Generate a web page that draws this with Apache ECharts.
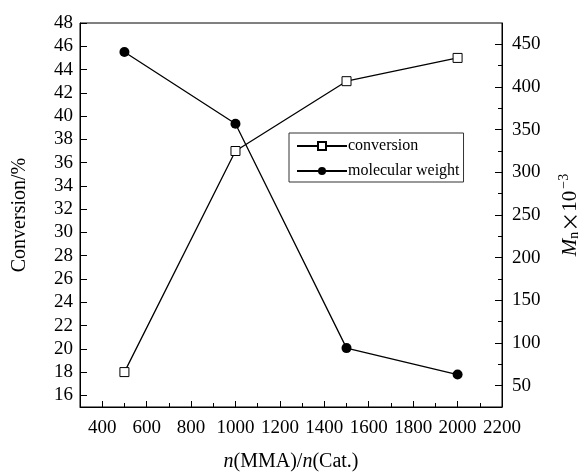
<!DOCTYPE html>
<html>
<head>
<meta charset="utf-8">
<script src="https://cdn.jsdelivr.net/npm/echarts@6/dist/echarts.min.js"></script>
<style>
html,body{margin:0;padding:0;background:#fff;}
#c{width:585px;height:474px;}
</style>
</head>
<body>
<div id="c"></div>
<script>
const ratios = [500, 1000, 1500, 2000];
const conversion = [18, 37, 43, 45];
const molecularWeight = [441, 357, 94, 63];
const xTickLabels = [400, 600, 800, 1000, 1200, 1400, 1600, 1800, 2000, 2200];
const xMinorTicks = [500, 700, 900, 1100, 1300, 1500, 1700, 1900, 2100];
const leftTickLabels = [16, 18, 20, 22, 24, 26, 28, 30, 32, 34, 36, 38, 40, 42, 44, 46, 48];
const rightTickLabels = [50, 100, 150, 200, 250, 300, 350, 400, 450];
const rightMinorTicks = [75, 125, 175, 225, 275, 325, 375, 425];

const FONT = '"Liberation Serif", "Times New Roman", serif';
const black = '#000';

const chart = echarts.init(document.getElementById('c'), null, {renderer: 'canvas'});
const lbl = {color: black, fontFamily: FONT, fontSize: 19, formatter: v => String(v)};

chart.setOption({
  animation: false,
  backgroundColor: '#fff',
  grid: {left: 80, right: 83, top: 23, bottom: 67, show: true, borderColor: black, borderWidth: 1, containLabel: false, outerBoundsMode: 'none'},
  legend: {
    orient: 'vertical', left: 289, top: 133,
    data: ['conversion', 'molecular weight'],
    borderColor: '#333', borderWidth: 1, borderRadius: 0,
    padding: [5, 4, 3, 7], itemWidth: 50, itemHeight: 10, itemGap: 9,
    textStyle: {color: black, fontFamily: FONT, fontSize: 16, padding: [0, 0, 0, -4]},
    selectedMode: false
  },
  xAxis: [
    {
      type: 'value', min: 300, max: 2200, position: 'bottom',
      axisLine: {show: true, onZero: false, lineStyle: {color: black, width: 1}},
      axisTick: {show: true, inside: true, length: 6, customValues: xTickLabels, lineStyle: {color: black}},
      axisLabel: {customValues: xTickLabels, margin: 12, ...lbl},
      splitLine: {show: false},
      name: '{i|n}(MMA)/{i|n}(Cat.)', nameLocation: 'middle', nameGap: 45,
      nameTextStyle: {color: black, fontFamily: FONT, fontSize: 20,
        rich: {i: {fontStyle: 'italic', fontFamily: FONT, fontSize: 20, color: black}}}
    },
    {
      type: 'value', min: 300, max: 2200, position: 'bottom',
      axisLine: {show: false, onZero: false},
      axisTick: {show: true, inside: true, length: 4, customValues: xMinorTicks, lineStyle: {color: black}},
      axisLabel: {show: false},
      splitLine: {show: false}
    }
  ],
  yAxis: [
    {
      type: 'value', min: 15, max: 48, position: 'left',
      axisLine: {show: true, onZero: false, lineStyle: {color: black, width: 1}},
      axisTick: {show: true, inside: true, length: 7, customValues: leftTickLabels, lineStyle: {color: black}},
      axisLabel: {customValues: leftTickLabels, margin: 7, ...lbl},
      splitLine: {show: false},
      name: 'Conversion/%', nameLocation: 'middle', nameGap: 50, nameRotate: 90,
      nameTextStyle: {color: black, fontFamily: FONT, fontSize: 20}
    },
    {
      type: 'value', min: 25, max: 475, position: 'right',
      axisLine: {show: true, onZero: false, lineStyle: {color: black, width: 1}},
      axisTick: {show: true, inside: true, length: 7, customValues: rightTickLabels, lineStyle: {color: black}},
      axisLabel: {customValues: rightTickLabels, margin: 10, ...lbl},
      splitLine: {show: false},
      name: '{i|M}{sub|n}{x|×}10{sup|−3}', nameLocation: 'middle', nameGap: 55, nameRotate: 90,
      nameTextStyle: {color: black, fontFamily: FONT, fontSize: 21,
        rich: {
          i: {fontStyle: 'italic', fontFamily: FONT, fontSize: 21, color: black},
          x: {fontFamily: '"Noto Sans CJK SC", sans-serif', fontSize: 20, color: black},
          sub: {fontFamily: FONT, fontSize: 14, color: black, padding: [9, 0, 0, 0]},
          sup: {fontFamily: FONT, fontSize: 14, color: black, padding: [0, 0, 12, 2]}
        }}
    },
    {
      type: 'value', min: 25, max: 475, position: 'right',
      axisLine: {show: false, onZero: false},
      axisTick: {show: true, inside: true, length: 4, customValues: rightMinorTicks, lineStyle: {color: black}},
      axisLabel: {show: false},
      splitLine: {show: false}
    }
  ],
  series: [
    {
      name: 'conversion', type: 'line', xAxisIndex: 0, yAxisIndex: 0,
      data: ratios.map((x, i) => [x, conversion[i]]),
      symbol: 'rect', symbolSize: 9, showAllSymbol: true,
      lineStyle: {color: black, width: 1.3},
      itemStyle: {color: '#fff', borderColor: black, borderWidth: 1},
      z: 3
    },
    {
      name: 'molecular weight', type: 'line', xAxisIndex: 0, yAxisIndex: 1,
      data: ratios.map((x, i) => [x, molecularWeight[i]]),
      symbol: 'circle', symbolSize: 10, showAllSymbol: true,
      lineStyle: {color: black, width: 1.3},
      itemStyle: {color: black, borderColor: black, borderWidth: 0},
      z: 3
    }
  ]
});
</script>
</body>
</html>
